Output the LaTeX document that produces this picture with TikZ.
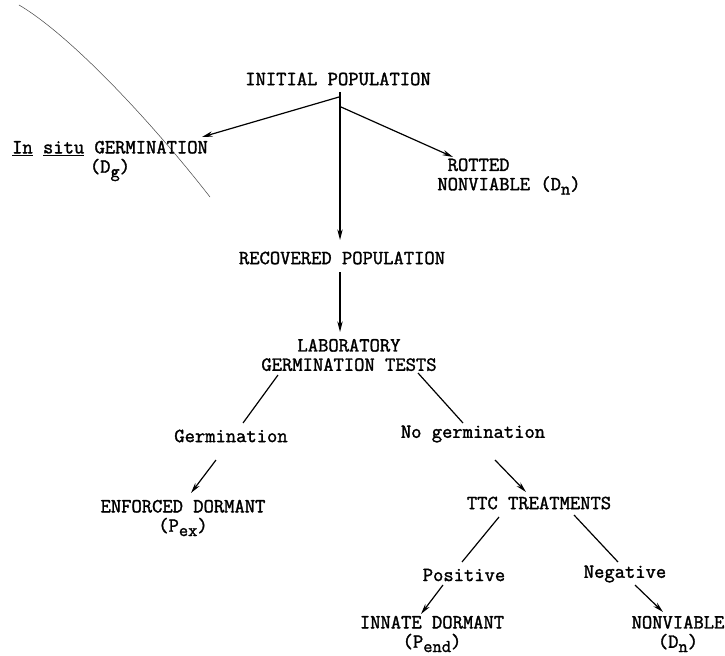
\documentclass[tikz,border=0pt]{standalone}
\usepackage{fontspec}
\newfontfamily\typewriter[FakeBold=1.6]{Latin Modern Mono}
\usetikzlibrary{arrows.meta,calc}
\newcommand{\lowsub}[1]{\raisebox{-0.5ex}{\fontsize{13.5}{13}\selectfont #1}}
\tikzset{
  stagebox/.style={font=\typewriter\fontsize{15}{14.5}\selectfont, align=center, inner sep=0pt},
  flowarrow/.style={-{Stealth[length=8pt,width=4pt]}, line width=0.9pt},
  flowline/.style={-, line width=0.9pt},
  scanmark/.style={line width=0.4pt, draw=black!70}
}

\begin{document}
\begin{tikzpicture}[x=0.75pt,y=-0.75pt]
  \useasboundingbox (0,0) rectangle (725,656);
  % stray line on the scan
  \draw[scanmark] (19,5) .. controls (70,35) and (150,120) .. (210,197);

  \node[stagebox] (init) at (338,79) {INITIAL POPULATION};
  \node[stagebox] (insitu) at (110,161) {\underline{In} \underline{situ} GERMINATION\\(D\lowsub{g})};
  \node[stagebox, align=left] (rotted) at (509,176.5) {\phantom{N}ROTTED\\NONVIABLE (D\lowsub{n})};
  \node[stagebox] (recov) at (342,258) {RECOVERED POPULATION};
  \node[stagebox] (lab) at (349,355) {LABORATORY\\GERMINATION TESTS};
  \node[stagebox] (germ) at (231,436) {Germination};
  \node[stagebox] (nogerm) at (473,434) {No germination};
  \node[stagebox] (enf) at (183,518) {ENFORCED DORMANT\\(P\lowsub{ex})};
  \node[stagebox] (ttc) at (539,503) {TTC TREATMENTS};
  \node[stagebox] (pos) at (464,575) {Positive};
  \node[stagebox] (neg) at (625,574) {Negative};
  \node[stagebox] (innate) at (432,634) {INNATE DORMANT\\(P\lowsub{end})};
  \node[stagebox] (nonv) at (678,634) {NONVIABLE\\(D\lowsub{n})};

  % field fate of the seeds
  \draw[flowarrow] ($(init)+(2,13)$) -- ($(recov)+(-2,-18)$);
  \draw[flowarrow] ($(init)+(1,18)$) -- ($(insitu)+(92,-24)$);
  \draw[flowarrow] ($(init)+(3,28)$) -- ($(rotted)+(-56,-19.5)$);
  \draw[flowarrow] ($(recov)+(-2,14)$) -- ($(lab)+(-9,-23)$);

  % laboratory tests
  \draw[flowline] ($(lab)+(-71,20)$) -- ($(germ)+(12,-13)$);
  \draw[flowline] ($(lab)+(69,18)$) -- ($(nogerm)+(-10,-11)$);
  \draw[flowarrow] ($(germ)+(-15,24)$) -- ($(enf)+(8,-25)$);
  \draw[flowarrow] ($(nogerm)+(22,26)$) -- ($(ttc)+(-13,-11)$);

  % TTC results
  \draw[flowline] ($(ttc)+(-40,14)$) -- ($(pos)+(-2,-13)$);
  \draw[flowline] ($(ttc)+(35,12)$) -- ($(neg)+(-7,-12)$);
  \draw[flowarrow] ($(pos)+(-21,10)$) -- ($(innate)+(-11,-20)$);
  \draw[flowarrow] ($(neg)+(10,11)$) -- ($(nonv)+(-15,-22)$);
\end{tikzpicture}
\end{document}
